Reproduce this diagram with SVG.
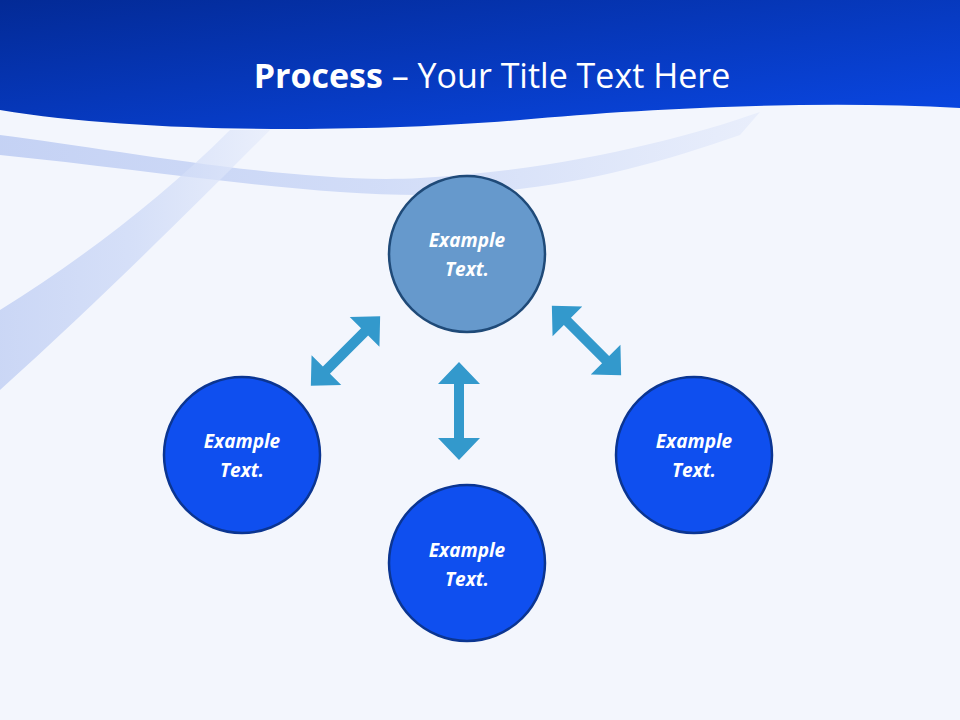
<svg xmlns="http://www.w3.org/2000/svg" width="960" height="720" viewBox="0 0 960 720">
<defs>
<linearGradient id="hdr" x1="0" y1="0" x2="1" y2="1"><stop offset="0" stop-color="#032a96"/><stop offset="1" stop-color="#0a48e6"/></linearGradient>
<linearGradient id="swoosh" x1="0" y1="0" x2="1" y2="0"><stop offset="0" stop-color="#b9c9f2"/><stop offset="0.5" stop-color="#c9d6f6"/><stop offset="1" stop-color="#e6ecfb"/></linearGradient>
<path id="dbl" d="M-49,0 L-27,-21 L-27,-5 L27,-5 L27,-21 L49,0 L27,21 L27,5 L-27,5 L-27,21 Z"/>
<style>
.node{stroke:#0b3591;stroke-width:2.5}
.blue{fill:#0f4fef}
.lbl{font-family:"Open Sans","Liberation Sans",sans-serif;font-style:italic;font-weight:bold;font-size:19px;fill:#fff;text-anchor:middle}
.arr{fill:#3399cc}
</style>
</defs>
<rect width="960" height="720" fill="#f3f6fd"/>
<path d="M0,135 C120,150 300,185 420,178 C560,170 680,140 760,112 L740,135 C640,170 540,195 420,195 C300,195 150,170 0,155 Z" fill="url(#swoosh)" opacity="0.8"/>
<path d="M0,310 C80,260 160,200 230,130 L270,130 C190,210 100,300 0,390 Z" fill="url(#swoosh)" opacity="0.7"/>
<path d="M0,0 H960 V108 C820,100 650,108 520,120 C380,132 150,135 0,110 Z" fill="url(#hdr)"/>
<text x="492" y="88" font-family="Open Sans,'Liberation Sans',sans-serif" font-size="34" fill="#fff" text-anchor="middle"><tspan font-weight="bold">Process</tspan> – Your Title Text Here</text>
<g id="connectors" class="arr">
<use href="#dbl" transform="translate(459,411) rotate(90)"/>
<use href="#dbl" transform="translate(345.5,351) rotate(-45)"/>
<use href="#dbl" transform="translate(586.5,340.5) rotate(45)"/>
</g>
<g id="node-top"><circle cx="467" cy="254" r="78" fill="#6699cc" stroke="#1f4a78" stroke-width="2.5"/><text class="lbl" x="467" y="247">Example</text><text class="lbl" x="467" y="276">Text.</text></g>
<g id="node-left"><circle cx="242" cy="455" r="78" class="node blue"/><text class="lbl" x="242" y="448">Example</text><text class="lbl" x="242" y="477">Text.</text></g>
<g id="node-bottom"><circle cx="467" cy="563" r="78" class="node blue"/><text class="lbl" x="467" y="557">Example</text><text class="lbl" x="467" y="586">Text.</text></g>
<g id="node-right"><circle cx="694" cy="455" r="78" class="node blue"/><text class="lbl" x="694" y="448">Example</text><text class="lbl" x="694" y="477">Text.</text></g>
</svg>
